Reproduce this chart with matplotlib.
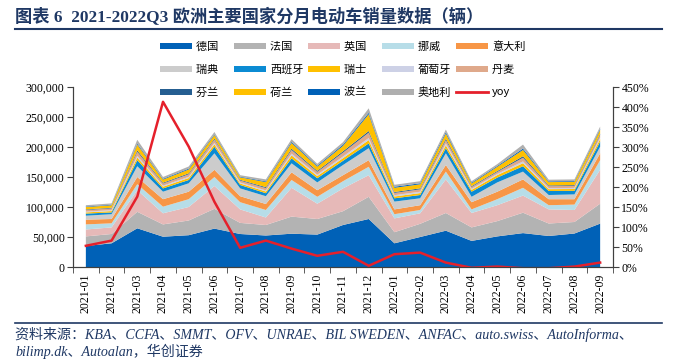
import numpy as np
import matplotlib.pyplot as plt
from matplotlib.patches import Patch
from matplotlib.lines import Line2D

plt.rcParams['font.family'] = ['Liberation Serif', 'Noto Sans CJK SC']

months = ['2021-01', '2021-02', '2021-03', '2021-04', '2021-05', '2021-06', '2021-07',
          '2021-08', '2021-09', '2021-10', '2021-11', '2021-12', '2022-01', '2022-02',
          '2022-03', '2022-04', '2022-05', '2022-06', '2022-07', '2022-08', '2022-09']

# 各国销量（千辆）
germany = [35, 39.5, 64.5, 50.5, 53, 64, 55, 52.5, 55.5, 54, 70, 80, 39.5, 50, 60.5, 43.5, 51, 56.5, 51.7, 55.8, 72.3]
france = [16, 15.5, 27.5, 20.5, 24.5, 33, 18.5, 17.5, 28.5, 26, 23, 37, 18.5, 22, 29.5, 22.5, 25.5, 34, 20.8, 19.2, 33.2]
uk = [11.5, 11, 36, 18.5, 22.5, 38, 22.5, 12.5, 48, 25.5, 38, 36, 23, 17.5, 56, 24, 26.5, 28.5, 23.5, 20, 56.5]
norway = [8.5, 6.8, 10, 11, 13, 15, 12, 12.5, 13, 11.5, 12, 14, 7, 5.5, 13, 6, 10, 13, 7, 9, 16]
italy = [8, 7.2, 12, 12.5, 12.5, 12, 10, 10, 12.8, 11, 10, 11, 8, 8, 11, 12, 12.5, 14, 10, 9, 11.5]
sweden = [6.5, 8, 18, 12.5, 14, 27.5, 13, 13, 15, 13, 17, 20, 13, 11.5, 19.5, 9, 15.5, 13, 7, 8, 11]
spain = [3.5, 3, 10, 5.5, 5.5, 11, 5.7, 5, 8.2, 7, 7, 8, 5.5, 5.5, 8.5, 8.5, 8, 9, 6.7, 6, 8.5]
swiss = [2.0, 2.2, 4.5, 2.8, 3.3, 4.0, 2.5, 2.8, 5.0, 3.5, 4.4, 5.5, 3.0, 3.2, 4.8, 3.0, 4.2, 5.0, 3.0, 3.0, 4.3]
portugal = [1.3, 1.5, 2.8, 1.8, 2.0, 2.4, 1.7, 1.8, 3.0, 2.3, 2.8, 3.5, 2.2, 2.3, 3.2, 1.9, 2.0, 3.0, 1.8, 1.8, 2.3]
denmark = [2.6, 3.0, 6.8, 3.6, 4.3, 5.5, 3.2, 4.0, 6.0, 4.8, 6.5, 9.0, 3.8, 4.0, 5.5, 3.0, 3.3, 6.2, 3.2, 3.3, 4.5]
finland = [1.0, 1.0, 2.2, 1.3, 1.5, 1.6, 1.2, 1.5, 2.2, 1.7, 2.2, 2.6, 1.5, 1.6, 2.4, 1.3, 1.4, 2.4, 1.3, 1.3, 1.8]
netherlands = [4.0, 4.2, 9.6, 5.2, 6.4, 6.0, 4.2, 8.4, 9.5, 6.9, 9.0, 28.0, 7.0, 6.8, 8.5, 4.5, 7.1, 10.5, 5.5, 5.6, 6.7]
poland = [0.9, 0.9, 1.6, 1.2, 1.4, 1.3, 1.0, 1.2, 1.8, 1.5, 2.0, 2.4, 1.8, 1.6, 2.3, 1.3, 1.4, 2.2, 1.2, 1.2, 1.7]
austria = [2.2, 2.2, 6.5, 3.1, 3.6, 3.7, 2.5, 3.3, 4.5, 3.3, 4.1, 7.5, 3.2, 3.5, 4.3, 2.5, 3.1, 6.7, 2.8, 2.8, 3.7]
yoy = [53, 66, 176, 413, 301, 163, 48, 66, 46, 28, 38, 3, 32, 36, 11, -2, 1, -3, -3, 1, 11]

names = ['德国', '法国', '英国', '挪威', '意大利', '瑞典', '西班牙', '瑞士', '葡萄牙', '丹麦',
         '芬兰', '荷兰', '波兰', '奥地利']
colors = ['#0061B7', '#B3B3B3', '#E6B9B8', '#B7DDE8', '#F79646', '#CCCCCC', '#0B8BD3', '#FFC000',
          '#CDD1E6', '#DFA98B', '#255E91', '#FFC000', '#0061B7', '#AFAFAF']
series = [germany, france, uk, norway, italy, sweden, spain, swiss, portugal, denmark,
          finland, netherlands, poland, austria]

fig = plt.figure(figsize=(6.76, 3.6), dpi=100)
ax = fig.add_axes([73 / 676, 1 - 267 / 360, 540 / 676, 180 / 360])
x = np.arange(len(months))
ax.stackplot(x, *[np.array(s) * 1000 for s in series], colors=colors, linewidth=0)
ax.set_xlim(-0.5, len(months) - 0.5)
ax.set_ylim(0, 300000)
ax.set_yticks(np.arange(0, 300001, 50000))
ax.set_yticklabels([f'{int(v):,}' for v in np.arange(0, 300001, 50000)], fontsize=8.5)
ax.set_xticks(x)
ax.set_xticklabels(months, rotation=90, fontsize=8.5)
ax.set_xticks(np.arange(-0.5, len(months), 1), minor=True)
ax.tick_params(axis='x', which='major', length=0, pad=5)
ax.tick_params(axis='x', which='minor', length=4, color='#404040')
ax.tick_params(axis='y', length=4, color='#404040', pad=2)

ax2 = ax.twinx()
ax2.plot(x, yoy, color='#E5202B', lw=1.8)
ax2.set_ylim(0, 450)
ax2.set_yticks(np.arange(0, 451, 50))
ax2.set_yticklabels([f'{v}%' for v in range(0, 451, 50)], fontsize=8.5)
ax2.tick_params(axis='y', length=4, color='#404040', pad=2)

for a in (ax, ax2):
    a.spines['top'].set_visible(False)
    for s in ('left', 'right', 'bottom'):
        a.spines[s].set_color('#404040')
        a.spines[s].set_linewidth(0.8)

# legend, filled row by row like the original
handles = [Patch(facecolor=c, edgecolor='none') for c in colors]
handles.append(Line2D([0], [0], color='#E5202B', lw=2))
labels = [n if len(n) == 3 else n + '\u3000' for n in names] + ['yoy']
order = [r * 5 + c for c in range(5) for r in range(3)]
fig.legend([handles[i] for i in order], [labels[i] for i in order],
           loc='upper left', bbox_to_anchor=(160 / 676, 1 - 41 / 360), ncol=5, frameon=False,
           prop={'family': ['Noto Sans CJK SC'], 'size': 8},
           handlelength=2.9, handleheight=0.45, handletextpad=0.35, columnspacing=0.4,
           labelspacing=1.15, borderpad=0, borderaxespad=0)

navy = '#1F3864'
fig.text(15 / 676, 1 - 17 / 360, '图表 6  2021-2022Q3 欧洲主要国家分月电动车销量数据（辆）',
         fontsize=12.4, weight='bold', color=navy, va='center')
fig.add_artist(Line2D([15 / 676, 662 / 676], [1 - 29 / 360] * 2, color=navy, lw=1.5))
fig.add_artist(Line2D([15 / 676, 662 / 676], [1 - 323 / 360] * 2, color=navy, lw=1.2))
fig.text(15 / 676, 1 - 334 / 360,
         '资料来源：KBA、CCFA、SMMT、OFV、UNRAE、BIL SWEDEN、ANFAC、auto.swiss、AutoInforma、',
         fontsize=10.1, style='italic', color=navy, va='center')
fig.text(15 / 676, 1 - 351 / 360, 'bilimp.dk、Autoalan，华创证券',
         fontsize=10.1, style='italic', color=navy, va='center')

fig.savefig('out.png', dpi=100)
